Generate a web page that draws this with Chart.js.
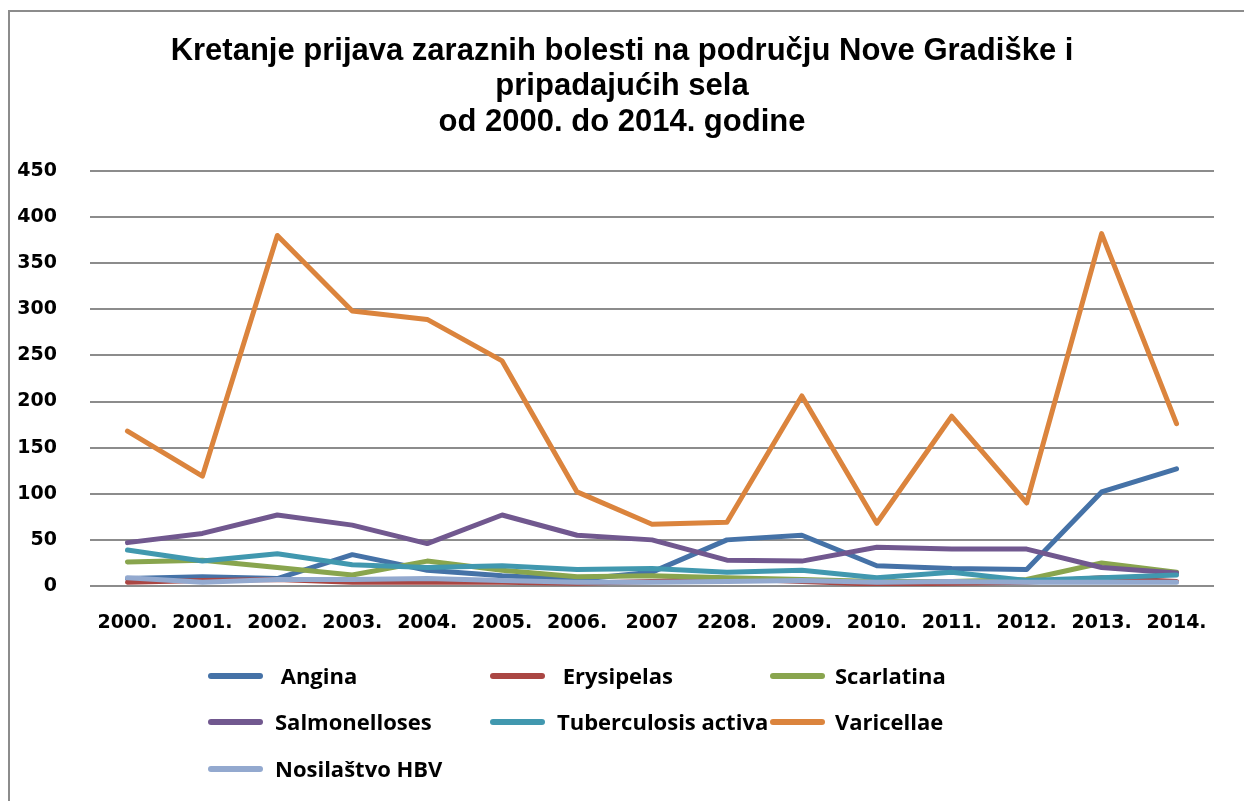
<!DOCTYPE html>
<html>
<head>
<meta charset="utf-8">
<script src="https://cdn.jsdelivr.net/npm/chart.js@4/dist/chart.umd.min.js"></script>
<style>
  html, body { margin: 0; padding: 0; background: #fff; }
  #wrap { position: relative; width: 1244px; height: 801px; overflow: hidden; }
  #frame { position: absolute; left: 8px; top: 10px; width: 1250px; height: 800px; border: 2px solid #8c8c8c; box-sizing: border-box; }
  #legend { position: absolute; left: 0; top: 650px; width: 1244px; height: 150px; font: bold 22px "Open Sans", sans-serif; color: #000; }
  .item { position: absolute; height: 30px; white-space: pre; }
  .item .sw { position: absolute; left: 0; top: 12px; width: 55px; height: 6px; border-radius: 3px; }
  .item .tx { position: absolute; top: -1px; line-height: 30px; }
</style>
</head>
<body>
<div id="wrap">
  <canvas id="lineChart" width="1244" height="801"></canvas>
  <div id="frame"></div>
  <div id="legend"></div>
</div>
<script>
// podaci
var years = ['2000.', '2001.', '2002.', '2003.', '2004.', '2005.', '2006.', '2007', '2208.', '2009.', '2010.', '2011.', '2012.', '2013.', '2014.'];
var angina        = [8, 10, 8, 34, 17, 11, 7, 15, 50, 55, 22, 19, 18, 102, 127];
var erysipelas    = [4, 6, 7, 4, 4, 4, 3, 5, 8, 5, 2, 3, 4, 9, 5];
var scarlatina    = [26, 28, 20, 12, 27, 17, 10, 11, 9, 7, 5, 5, 7, 25, 15];
var salmonelloses = [47, 57, 77, 66, 46, 77, 55, 50, 28, 27, 42, 40, 40, 20, 14];
var tuberculosis  = [39, 27, 35, 23, 20, 22, 18, 19, 15, 17, 9, 15, 6, 9, 12];
var varicellae    = [168, 119, 380, 298, 289, 244, 102, 67, 69, 206, 68, 184, 90, 382, 176];
var hbv           = [9, 4, 7, 7, 8, 6, 4, 4, 5, 6, 4, 5, 4, 4, 4];
var yTicks = [0, 50, 100, 150, 200, 250, 300, 350, 400, 450];

var names  = [' Angina', ' Erysipelas', 'Scarlatina', 'Salmonelloses', 'Tuberculosis activa', 'Varicellae', 'Nosilaštvo HBV'];
var series = [angina, erysipelas, scarlatina, salmonelloses, tuberculosis, varicellae, hbv];
var colors = ['#4572A7', '#AA4643', '#89A54E', '#71588F', '#4198AF', '#DB843D', '#93A9CF'];

var datasets = [];
for (var i = 0; i < series.length; i++) {
    datasets.push({
        label: names[i],
        data: series[i],
        borderColor: colors[i],
        backgroundColor: colors[i],
        borderWidth: 5,
        pointRadius: 0,
        tension: 0,
        borderJoinStyle: 'round',
        borderCapStyle: 'round',
        order: series.length - i
    });
}

var tickFont = { family: '"DejaVu Sans", sans-serif', size: 19, weight: 'bold' };

var chart = new Chart(document.getElementById('lineChart'), {
    type: 'line',
    data: { labels: years, datasets: datasets },
    options: {
        responsive: false,
        animation: false,
        layout: { padding: 0 },
        plugins: {
            legend: { display: false },
            tooltip: { enabled: false },
            title: {
                display: true,
                text: ['Kretanje prijava zaraznih bolesti na području Nove Gradiške i', 'pripadajućih sela', 'od 2000. do 2014. godine'],
                color: '#000',
                font: { family: '"Liberation Sans", Arial, sans-serif', size: 31, weight: 'bold', lineHeight: 1.16 },
                padding: { top: 33, bottom: 30 }
            }
        },
        scales: {
            x: {
                offset: true,
                grid: { display: false, drawTicks: false, offset: true },
                border: { display: false },
                ticks: { color: '#000', font: tickFont, padding: 26, maxRotation: 0, autoSkip: false },
                afterFit: function (axis) { axis.height = 801 - 586; }
            },
            y: {
                min: 0,
                max: 450,
                afterBuildTicks: function (axis) { axis.ticks = yTicks.map(function (v) { return { value: v }; }); },
                grid: { color: '#8c8c8c', lineWidth: 2, drawTicks: false },
                border: { display: false },
                ticks: { color: '#000', font: tickFont, padding: 33 },
                afterFit: function (axis) { axis.width = 90; }
            },
            // prazna desna os, samo za razmak
            yRight: {
                position: 'right',
                min: 0,
                max: 450,
                grid: { display: false, drawTicks: false },
                border: { display: false },
                ticks: { display: false },
                afterFit: function (axis) { axis.width = 30; }
            }
        }
    }
});

// legenda u tri stupca
var legend = document.getElementById('legend');
var cols = [208, 490, 770];
var rows = [11, 57, 104];
chart.data.datasets.forEach(function (ds, k) {
    var d = document.createElement('div');
    d.className = 'item';
    d.style.left = cols[k % 3] + 'px';
    d.style.top = rows[Math.floor(k / 3)] + 'px';
    d.innerHTML = '<span class="sw" style="background:' + ds.borderColor + '"></span><span class="tx" style="left:' + (k % 3 === 2 ? 65 : 67) + 'px"></span>';
    d.querySelector('.tx').textContent = ds.label;
    legend.appendChild(d);
});
</script>
</body>
</html>
